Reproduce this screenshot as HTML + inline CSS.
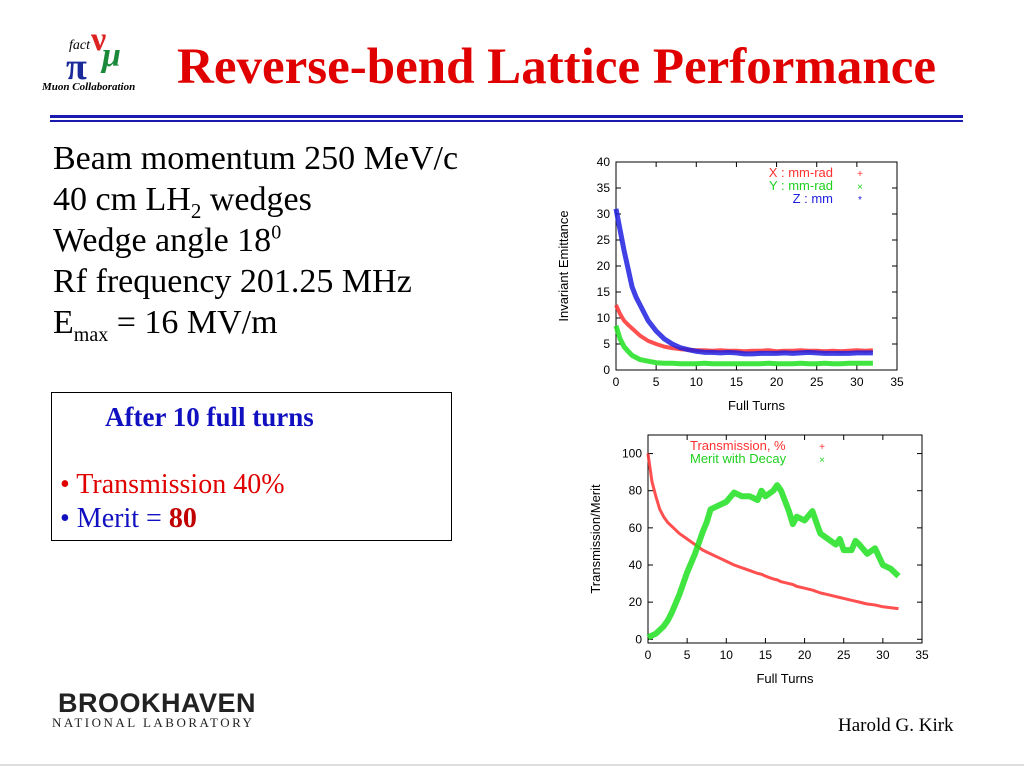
<!DOCTYPE html>
<html><head><meta charset="utf-8">
<style>
body{margin:0;width:1024px;height:768px;background:#fff;position:relative;overflow:hidden;font-family:"Liberation Serif",serif}
.abs{position:absolute}
.t{font-size:34px;line-height:38px;color:#000;left:53px;white-space:nowrap}
</style></head><body>
<div class="abs" style="left:38px;top:25px;width:120px;height:70px">
 <span class="abs" style="left:31px;top:13px;font:italic 14px 'Liberation Serif',serif;color:#000">fact</span>
 <span class="abs" style="left:28px;top:20px;font:bold 38px 'Liberation Serif',serif;color:#1a2a9a">π</span>
 <span class="abs" style="left:53px;top:-4px;font:bold 34px 'Liberation Serif',serif;color:#d22">ν</span>
 <span class="abs" style="left:64px;top:12px;font:italic bold 34px 'Liberation Serif',serif;color:#1a8a3a">μ</span>
 <span class="abs" style="left:4px;top:56px;font:italic bold 11px 'Liberation Serif',serif;color:#000;white-space:nowrap">Muon Collaboration</span>
</div>
<div class="abs" style="left:177px;top:38px;font:bold 51px 'Liberation Serif',serif;color:#e00000;white-space:nowrap">Reverse-bend Lattice Performance</div>
<div class="abs" style="left:50px;top:115px;width:913px;height:3px;background:#1a1ab0"></div>
<div class="abs" style="left:50px;top:120px;width:913px;height:2px;background:#1a1ab0"></div>

<div class="abs t" style="top:140px">Beam momentum 250 MeV/c</div>
<div class="abs t" style="top:181px">40 cm LH<sub style="font-size:21px;line-height:0">2</sub> wedges</div>
<div class="abs t" style="top:222px">Wedge angle 18<sup style="font-size:20px;line-height:0">0</sup></div>
<div class="abs t" style="top:263px">Rf frequency 201.25 MHz</div>
<div class="abs t" style="top:304px">E<sub style="font-size:20px;line-height:0">max</sub> = 16 MV/m</div>

<div class="abs" style="left:51px;top:392px;width:401px;height:149px;border:1px solid #000;box-sizing:border-box;font-size:28px;line-height:30px">
 <div class="abs" style="left:53px;top:9px;color:#1010c0;font-weight:bold;white-space:nowrap;font-size:27px">After 10 full turns</div>
 <div class="abs" style="left:8px;top:77px;color:#e00000;white-space:nowrap">• Transmission 40%</div>
 <div class="abs" style="left:8px;top:111px;color:#1010c0;white-space:nowrap">• Merit = <b style="color:#c00000">80</b></div>
</div>

<div class="abs" style="left:58px;top:688px">
 <div style="font:bold 27px 'Liberation Sans',sans-serif;color:#222;letter-spacing:0.5px">BROOKHAVEN</div>
 <div style="font:13px 'Liberation Serif',serif;color:#222;letter-spacing:2.5px;margin-top:-4px;margin-left:-6px">NATIONAL LABORATORY</div>
</div>
<div class="abs" style="left:838px;top:715px;font-size:19px">Harold G. Kirk</div>
<div class="abs" style="left:0;top:764px;width:1024px;height:2px;background:#ddd"></div>

<svg class="abs" style="left:0;top:0" width="1024" height="768" id="svg"></svg>
<script>
// Emittance chart data
const turnsA=[0,0.5,1,1.5,2,2.5,3,4,5,6,7,8,9,10,11,12,13,14,15,16,17,18,19,20,21,22,23,24,25,26,27,28,29,30,31,32];
const emitX=[12.5,10.8,9.5,8.7,8,7.3,6.6,5.6,5,4.5,4.2,4,3.9,3.8,3.8,3.7,3.8,3.7,3.7,3.6,3.7,3.7,3.8,3.6,3.7,3.7,3.8,3.7,3.7,3.6,3.7,3.6,3.7,3.8,3.7,3.8];
const emitY=[8.5,6,4.5,3.6,2.8,2.4,2,1.7,1.4,1.3,1.3,1.2,1.2,1.2,1.3,1.2,1.2,1.2,1.2,1.2,1.2,1.2,1.3,1.2,1.2,1.2,1.3,1.2,1.2,1.3,1.2,1.2,1.3,1.3,1.3,1.3];
const emitZ=[31,27,23,19.5,16,14,12.5,9.5,7.5,6,5,4.3,3.9,3.6,3.4,3.4,3.3,3.4,3.3,3.1,3.1,3.2,3.2,3.2,3.3,3.2,3.3,3.4,3.3,3.2,3.2,3.2,3.2,3.3,3.3,3.3];
const ticksA=[0,5,10,15,20,25,30,35];
const yTicksA=[0,5,10,15,20,25,30,35,40];
// Transmission chart data
const turnsB=[0,0.5,1,1.5,2,2.5,3,4,5,6,7,7.5,8,9,10,11,12,13,14,14.5,15,16,16.5,17,18,18.5,19,20,21,22,23,24,24.5,25,26,26.5,27,28,29,30,31,32];
const trans=[100,85,77,70,66,63,61,57,54,51,48,47,46,44,42,40,38.5,37,35.5,35,34,32.5,32,31,30,29.5,28.5,27.5,26.5,25,24,23,22.5,22,21,20.5,20,19,18.5,17.5,17,16.5];
const merit=[1,2,3,5,7,10,14,24,36,46,58,63,70,72,74,79,77,77,75,80,77,80,83,80,69,62,66,64,69,57,54,51,54,48,48,53,51,46,49,40,38,34];
const ticksB=[0,5,10,15,20,25,30,35];
const yTicksB=[0,20,40,60,80,100];

const svg=document.getElementById('svg');
const NS='http://www.w3.org/2000/svg';
function mk(tag,attrs,parent){const e=document.createElementNS(NS,tag);for(const k in attrs)e.setAttribute(k,attrs[k]);(parent||svg).appendChild(e);return e;}
function txt(x,y,s,anchor,col,size,rot){const e=mk('text',{x:x,y:y,'text-anchor':anchor,fill:col,'font-size':size,'font-family':'Liberation Sans, sans-serif'});if(rot)e.setAttribute('transform','rotate(-90 '+x+' '+y+')');e.textContent=s;return e;}

function chart(name,L,R,T,B,xmax,ymin,ymax,xt,yt,ylabel,series,legend,legY,anchor){
  const g=mk('g',{});
  
  
  const sx=v=>L+(R-L)*v/xmax, sy=v=>B-(B-T)*(v-ymin)/(ymax-ymin);
  mk('rect',{x:L,y:T,width:R-L,height:B-T,fill:'none',stroke:'#000','stroke-width':1},g);
  xt.forEach(v=>{mk('line',{x1:sx(v),x2:sx(v),y1:B,y2:B-5,stroke:'#000'},g);mk('line',{x1:sx(v),x2:sx(v),y1:T,y2:T+5,stroke:'#000'},g);
    const t=txt(sx(v),B+16,String(v),'middle','#000',12);g.appendChild(t);
    });
  yt.forEach(v=>{mk('line',{x1:L,x2:L+5,y1:sy(v),y2:sy(v),stroke:'#000'},g);mk('line',{x1:R,x2:R-5,y1:sy(v),y2:sy(v),stroke:'#000'},g);
    const t=txt(L-6,sy(v)+4,String(v),'end','#000',12);g.appendChild(t);
    });
  const xl=txt((L+R)/2,B+40,'Full Turns','middle','#000',13);g.appendChild(xl);
  
  const yl=txt(L-48,(T+B)/2,ylabel,'middle','#000',13,true);g.appendChild(yl);
  
  series.forEach(s=>{
    const pts=s.x.map((v,i)=>sx(v)+','+sy(s.y[i])).join(' ');
    const pl=mk('polyline',{points:pts,fill:'none',stroke:s.c,'stroke-width':s.w,'stroke-linejoin':'round','stroke-opacity':0.85},g);
    
    
  });
  legend.forEach((l,i)=>{
    const y=legY+i*13;
    const t=txt(l.tx,y,l.s,anchor,l.c,13);g.appendChild(t);
    
    const m=txt(l.mx,y,l.m,'middle',l.c,10);g.appendChild(m);
  });
}
chart('emittance-chart',616,897,162,370,35,0,40,ticksA,yTicksA,'Invariant Emittance',
 [{x:turnsA,y:emitX,c:'#ff3030',w:4,n:'series-x'},{x:turnsA,y:emitY,c:'#20e020',w:5,n:'series-y'},{x:turnsA,y:emitZ,c:'#2020e0',w:5,n:'series-z'}],
 [{s:'X : mm-rad',c:'#ff3030',tx:833,mx:860,m:'+'},{s:'Y : mm-rad',c:'#20d020',tx:833,mx:860,m:'×'},{s:'Z : mm',c:'#2020e0',tx:833,mx:860,m:'*'}],177,'end');
chart('transmission-chart',648,922,435,643,35,-2,110,ticksB,yTicksB,'Transmission/Merit',
 [{x:turnsB,y:trans,c:'#ff3030',w:3,n:'series-transmission'},{x:turnsB,y:merit,c:'#20e020',w:6,n:'series-merit'}],
 [{s:'Transmission, %',c:'#ff3030',tx:690,mx:822,m:'+'},{s:'Merit with Decay',c:'#20d020',tx:690,mx:822,m:'×'}],450,'start');
</script>
</body></html>
